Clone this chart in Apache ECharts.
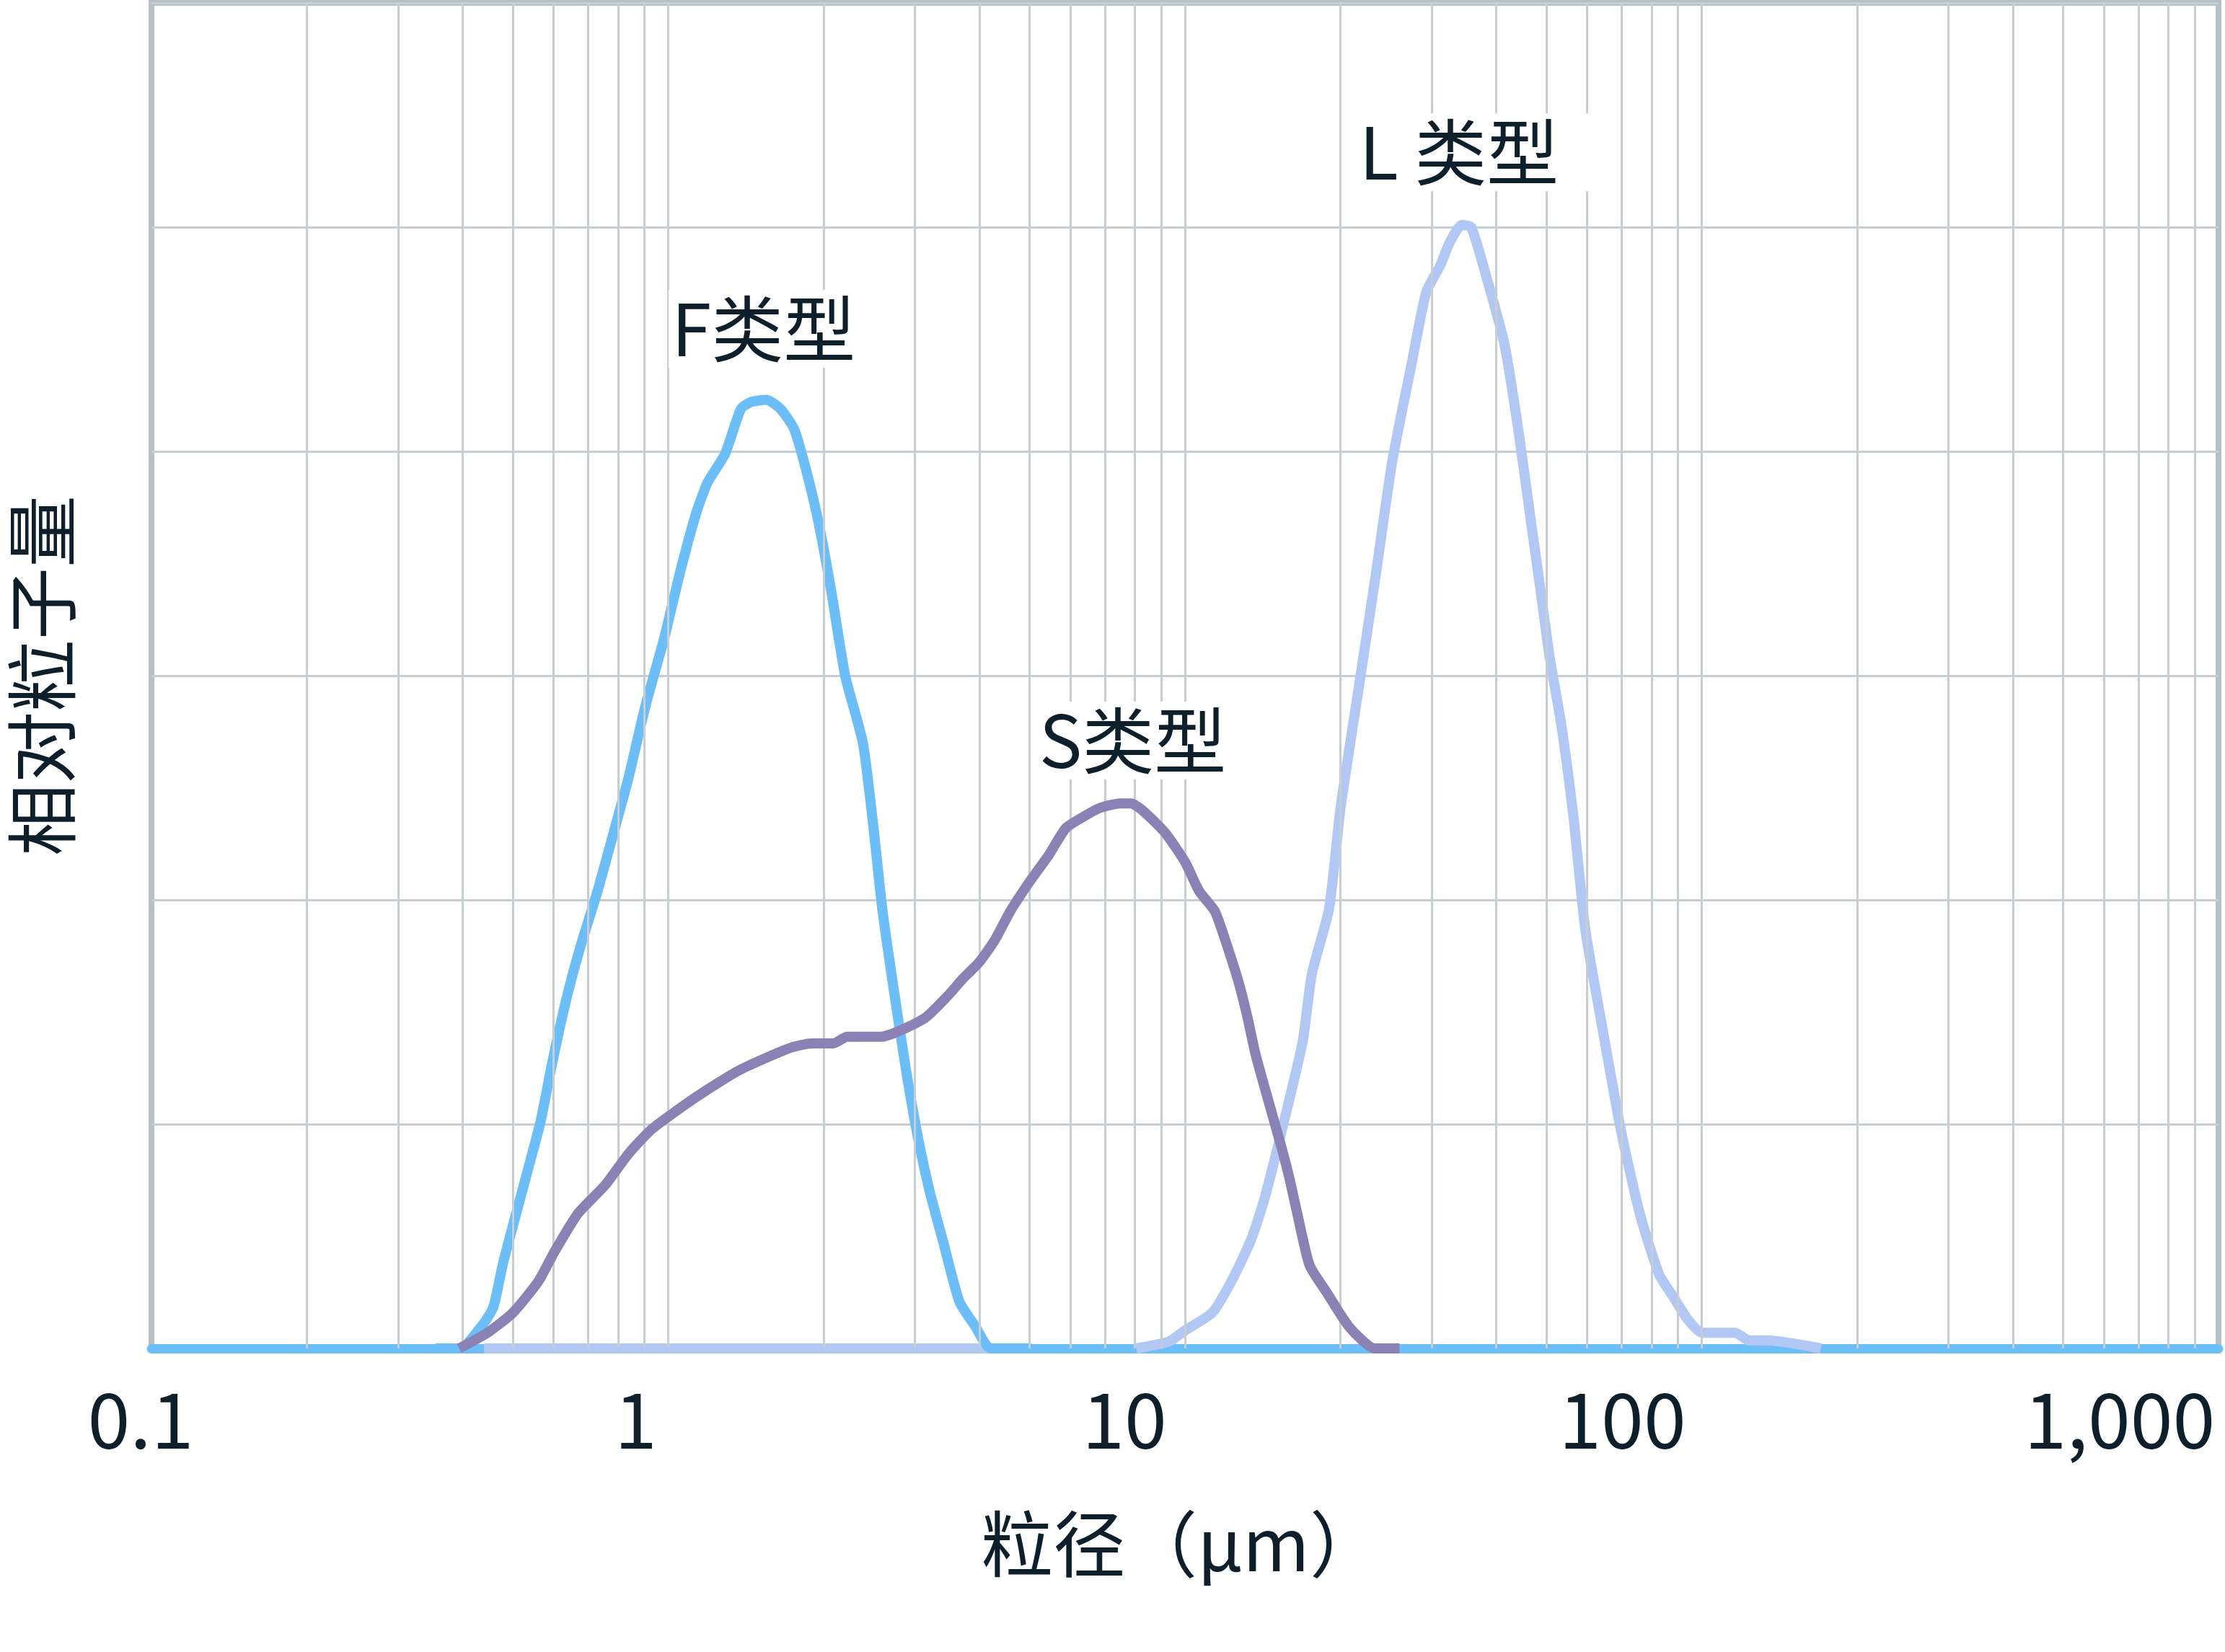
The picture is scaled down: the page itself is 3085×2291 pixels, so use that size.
<!DOCTYPE html>
<html>
<head>
<meta charset="utf-8">
<script src="https://cdn.jsdelivr.net/npm/echarts@6/dist/echarts.min.js"></script>
<style>
  html, body { margin: 0; padding: 0; background: #ffffff; }
  #chart { width: 3085px; height: 2291px; }
</style>
</head>
<body>
<div id="chart"></div>
<script>
// ---------- data ----------
const tickLabels = ['0.1', '1', '10', '100', '1,000'];
const xAxisTitle = '粒径（µm）';
const yAxisTitle = '相对粒子量';

const gridXs = [0.2, 0.3, 0.4, 0.5, 0.6, 0.7, 0.8, 0.9, 1,
                2, 3, 4, 5, 6, 7, 8, 9, 10,
                20, 30, 40, 50, 60, 70, 80, 90, 100,
                200, 300, 400, 500, 600, 700, 800, 900];

// F type
const fX = [0.355, 0.395, 0.439, 0.459, 0.479, 0.505, 0.537, 0.566, 0.596, 0.634, 0.674, 0.730, 0.782, 0.839, 0.900,
            0.983, 1.054, 1.131, 1.191, 1.289, 1.383, 1.445, 1.549, 1.648, 1.752, 1.862, 1.963, 2.070, 2.200, 2.381,
            2.488, 2.599, 2.740, 2.886, 3.043, 3.206, 3.410, 3.658, 3.924, 4.207, 5.05];
const fY = [0, 0, 0.11, 0.185, 0.38, 0.58, 0.81, 1.01, 1.27, 1.55, 1.78, 2.04, 2.29, 2.55, 2.85,
            3.17, 3.46, 3.72, 3.86, 3.99, 4.19, 4.22, 4.23, 4.19, 4.10, 3.89, 3.66, 3.37, 3.00, 2.70,
            2.35, 1.95, 1.58, 1.24, 0.94, 0.70, 0.47, 0.21, 0.10, 0, 0];

// S type
const sX = [0.394, 0.447, 0.501, 0.561, 0.602, 0.668, 0.756, 0.839, 0.932, 1.131, 1.371, 1.721, 1.896, 2.087, 2.219,
            2.576, 3.124, 3.467, 3.721, 3.991, 4.283, 4.592, 5.0, 5.45, 5.88, 6.35, 6.84, 7.48, 7.87, 8.27,
            9.15, 10.0, 10.65, 11.42, 11.93, 12.71, 13.2, 13.7, 14.6, 15.4, 15.96, 16.57, 17.43, 18.8, 20.8,
            23.3, 26.0];
const sY = [0, 0.07, 0.16, 0.30, 0.43, 0.60, 0.73, 0.87, 0.98, 1.12, 1.24, 1.34, 1.36, 1.36, 1.39,
            1.39, 1.47, 1.57, 1.65, 1.72, 1.82, 1.95, 2.08, 2.20, 2.32, 2.37, 2.41, 2.43, 2.43, 2.40,
            2.30, 2.17, 2.04, 1.95, 1.83, 1.63, 1.48, 1.31, 1.08, 0.89, 0.75, 0.58, 0.37, 0.25, 0.095,
            0, 0];

// L type (baseline piece, gap, main peak)
const lX = [0.44, 4.2, 6.0, 8.05, 9.3, 10.0, 11.3, 12.3, 13.4, 14.24, 15.5, 16.9, 17.6, 19.0, 20.0,
            21.8, 23.4, 25.2, 27.5, 29.3, 31.2, 32.5, 34.3, 35.8, 38.5, 41.5, 44.2, 46.7, 48.7, 50.8,
            53.5, 56.4, 59.5, 64.1, 69.8, 75.9, 82.7, 88.1, 93.9, 100, 116, 123.6, 134.5, 170];
const lY = [0, 0, null, 0, 0.03, 0.08, 0.16, 0.30, 0.48, 0.665, 1.0, 1.37, 1.67, 1.96, 2.41,
            2.98, 3.45, 3.96, 4.40, 4.71, 4.83, 4.93, 5.01, 5.00, 4.76, 4.48, 4.09, 3.69, 3.39, 3.08,
            2.78, 2.38, 1.87, 1.44, 0.97, 0.60, 0.33, 0.23, 0.13, 0.07, 0.07, 0.035, 0.035, 0];

// series labels: text and anchor (data coordinates)
const seriesNames = ['F类型', 'S类型', 'L 类型'];
const labelX = [1.728, 8.95, 38.3];
const labelY = [4.547, 2.711, 5.334];

// ---------- style ----------
const C_F = '#6BBEF8';
const C_S = '#8A82B5';
const C_L = '#B1C8F4';
const C_TEXT = '#0E1F2C';
const C_GRID = '#C7CED1';
const C_BORDER = '#B6C1C5';
const FONT = '"Noto Sans CJK SC", "Noto Sans", sans-serif';
const LINE_W = 14;

// label shifts (px to the left of tick) via right padding
const labelPad = [30, 90, 168, 220, 274];
const rich = {};
labelPad.forEach((p, i) => {
  rich['t' + i] = { fontSize: 106, fontFamily: FONT, color: C_TEXT, padding: [0, p, 0, 0] };
});

const pairs = (xs, ys) => xs.map((x, i) => [x, ys[i] === null ? '-' : ys[i]]);

function namedLabel(idx) {
  return {
    symbol: 'rect',
    symbolSize: 1,
    itemStyle: { color: 'rgba(0,0,0,0)' },
    silent: true,
    data: [{ name: seriesNames[idx], coord: [labelX[idx], labelY[idx]] }],
    label: {
      show: true,
      position: 'inside',
      formatter: '{b}',
      fontSize: 100,
      fontFamily: FONT,
      color: C_TEXT,
      backgroundColor: '#ffffff',
      padding: [4, 80, 4, 4],
      lineHeight: 100
    }
  };
}

const chart = echarts.init(document.getElementById('chart'), null, { renderer: 'canvas', devicePixelRatio: 1 });

chart.setOption({
  animation: false,
  backgroundColor: '#ffffff',
  grid: {
    left: 199, right: 9, top: 4, bottom: 421,
    show: true, borderColor: C_BORDER, borderWidth: 8, backgroundColor: 'transparent'
  },
  xAxis: {
    type: 'log',
    logBase: 10,
    min: 0.1,
    max: 1000,
    z: 2,
    axisLine: { show: true, lineStyle: { color: C_F, width: 13 } },
    axisTick: { show: false },
    splitLine: { show: false },
    minorSplitLine: { show: false },
    axisLabel: {
      show: true,
      margin: 46,
      showMinLabel: true,
      showMaxLabel: true,
      formatter: function (v) {
        const i = Math.round(Math.log10(v)) + 1;
        return '{t' + i + '|' + tickLabels[i] + '}';
      },
      rich: rich
    },
    name: xAxisTitle,
    nameLocation: 'middle',
    nameGap: 221,
    nameTextStyle: { fontSize: 100, fontFamily: FONT, color: C_TEXT, padding: [0, 10, 0, 0] }
  },
  yAxis: {
    type: 'value',
    min: 0,
    max: 6,
    interval: 1,
    axisLine: { show: false },
    axisTick: { show: false },
    axisLabel: { show: false },
    splitLine: { show: true, lineStyle: { color: C_GRID, width: 3 } },
    name: yAxisTitle,
    nameLocation: 'middle',
    nameGap: 102,
    nameTextStyle: { fontSize: 100, fontFamily: FONT, color: C_TEXT }
  },
  series: [
    {
      type: 'line',
      z: 1,
      data: [],
      silent: true,
      markLine: {
        silent: true,
        symbol: ['none', 'none'],
        label: { show: false },
        lineStyle: { color: C_GRID, width: 3, type: 'solid' },
        data: gridXs.map(v => ({ xAxis: v }))
      }
    },
    {
      name: seriesNames[2],
      type: 'line',
      z: 3,
      data: pairs(lX, lY),
      showSymbol: false,
      connectNulls: false,
      smooth: 0.2,
      lineStyle: { color: C_L, width: LINE_W },
      markPoint: namedLabel(2)
    },
    {
      name: seriesNames[0],
      type: 'line',
      z: 4,
      data: pairs(fX, fY),
      showSymbol: false,
      smooth: 0.2,
      lineStyle: { color: C_F, width: LINE_W },
      markPoint: namedLabel(0)
    },
    {
      name: seriesNames[1],
      type: 'line',
      z: 5,
      data: pairs(sX, sY),
      showSymbol: false,
      smooth: 0.2,
      lineStyle: { color: C_S, width: LINE_W },
      markPoint: namedLabel(1)
    }
  ]
});
</script>
</body>
</html>
